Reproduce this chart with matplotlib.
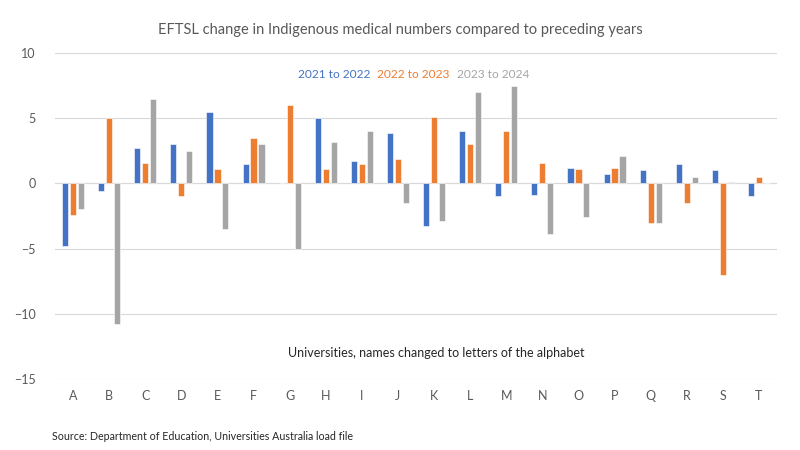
import numpy as np
import matplotlib
matplotlib.use("Agg")
import matplotlib.pyplot as plt

plt.rcParams['font.family'] = ['Lato', 'DejaVu Sans']

# 대학(알파벳으로 익명화)
universities = list("ABCDEFGHIJKLMNOPQRST")

# 연도별 EFTSL 변화
change_21_22 = [-4.8, -0.6, 2.7, 3.0, 5.5, 1.5, 0.0, 5.0, 1.7, 3.85,
                -3.3, 4.0, -1.0, -0.9, 1.2, 0.7, 1.0, 1.5, 1.0, -1.0]
change_22_23 = [-2.4, 5.0, 1.6, -1.0, 1.1, 3.5, 6.0, 1.1, 1.5, 1.85,
                5.1, 3.0, 4.0, 1.6, 1.1, 1.2, -3.0, -1.5, -7.0, 0.5]
change_23_24 = [-2.0, -10.8, 6.5, 2.5, -3.5, 3.0, -5.0, 3.2, 4.0, -1.5,
                -2.9, 7.0, 7.5, -3.9, -2.6, 2.1, -3.0, 0.5, 0.1, 0.0]

series = [("2021 to 2022", change_21_22, "#4472C4"),
          ("2022 to 2023", change_22_23, "#ED7D31"),
          ("2023 to 2024", change_23_24, "#A5A5A5")]

fig = plt.figure(figsize=(8, 4.5), dpi=100)
ax = fig.add_axes([55 / 800, 1 - 379 / 450, 722 / 800, 326 / 450])

x = np.arange(len(universities))
width = 0.17
step = 0.22
for i, (name, vals, color) in enumerate(series):
    ax.bar(x + (i - 1) * step, vals, width, color=color,
           edgecolor="white", linewidth=0.4, zorder=3)

ax.set_xlim(-0.5, len(universities) - 0.5)
ax.set_ylim(-15, 10)
ax.set_yticks([-15, -10, -5, 0, 5, 10])
ax.grid(axis="y", color="#D9D9D9", linewidth=0.8, zorder=0)
ax.axhline(0, color="#D9D9D9", linewidth=0.8, zorder=1)
for s in ax.spines.values():
    s.set_visible(False)
ax.tick_params(length=0, colors="#595959", labelsize=9)
ax.tick_params(axis="y", pad=14)
ax.tick_params(axis="x", pad=8)
ax.set_xticks(x)
ax.set_xticklabels(universities)

fig.text(0.5, 1 - 30 / 450, "EFTSL change in Indigenous medical numbers compared to preceding years",
         ha="center", va="center", fontsize=10.5, color="#595959")

# 범례 (색깔 텍스트)
legend_x = [298, 377, 457]
for (name, vals, color), lx in zip(series, legend_x):
    fig.text(lx / 800, 1 - 75 / 450, name, ha="left", va="center",
             fontsize=8.6, color=color)

fig.text(436 / 800, 1 - 353 / 450, "Universities, names changed to letters of the alphabet",
         ha="center", va="center", fontsize=9, color="#262626")
fig.text(52 / 800, 1 - 437 / 450, "Source: Department of Education, Universities Australia load file",
         ha="left", va="center", fontsize=7.7, color="#262626")

fig.savefig("out.png", dpi=100)
